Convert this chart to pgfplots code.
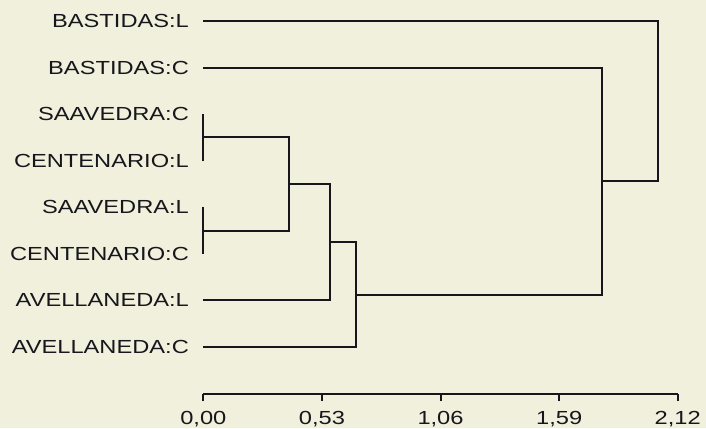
\documentclass[border=0pt]{standalone}
\usepackage{pgfplots}
\pgfplotsset{compat=1.18}
\usepackage{fontspec}
\setmainfont{Liberation Sans}
\definecolor{bg}{RGB}{240,240,220}
\definecolor{ink}{RGB}{22,22,28}
\begin{document}
\begin{tikzpicture}[x=1bp,y=1bp]
\fill[bg] (0,0) rectangle (706,428);
\begin{axis}[
  at={(203.3bp,34.4bp)}, anchor=origin,
  x=223.8bp, y=46.57bp,
  xmin=0, xmax=2.12, ymin=0, ymax=8.4,
  axis x line*=bottom, axis y line*=left,
  y axis line style={draw=none},
  x axis line style={ink, line width=2bp, -},
  xtick={0,0.53,1.06,1.59,2.12},
  xticklabels={{0,00},{0,53},{1,06},{1,59},{2,12}},
  xtick style={ink, line width=2bp},
  xtick align=outside,
  major tick length=7bp,
  ytick={1,2,3,4,5,6,7,8},
  yticklabels={AVELLANEDA:C,AVELLANEDA:L,CENTENARIO:C,SAAVEDRA:L,CENTENARIO:L,SAAVEDRA:C,BASTIDAS:C,BASTIDAS:L},
  ytick style={draw=none},
  ticklabel style={font=\fontsize{19}{22}\selectfont, text=ink, xscale=1.25},
  yticklabel style={xshift=-8bp},
  xticklabel style={yshift=-7bp},
  clip=false,
]
\addplot[ink, line width=2bp, mark=none] coordinates {(0,6) (0,5)};
\addplot[ink, line width=2bp, mark=none] coordinates {(0,4) (0,3)};
\addplot[ink, line width=2bp, mark=none] coordinates {(0,5.5) (0.383,5.5) (0.383,3.5) (0,3.5)};
\addplot[ink, line width=2bp, mark=none] coordinates {(0.383,4.5) (0.566,4.5) (0.566,2) (0,2)};
\addplot[ink, line width=2bp, mark=none] coordinates {(0.566,3.25) (0.682,3.25) (0.682,1) (0,1)};
\addplot[ink, line width=2bp, mark=none] coordinates {(0.682,2.125) (1.783,2.125) (1.783,7) (0,7)};
\addplot[ink, line width=2bp, mark=none] coordinates {(1.783,4.5625) (2.033,4.5625) (2.033,8) (0,8)};
\end{axis}
\pgfresetboundingbox
\path (0,0) rectangle (706,428);
\end{tikzpicture}
\end{document}
